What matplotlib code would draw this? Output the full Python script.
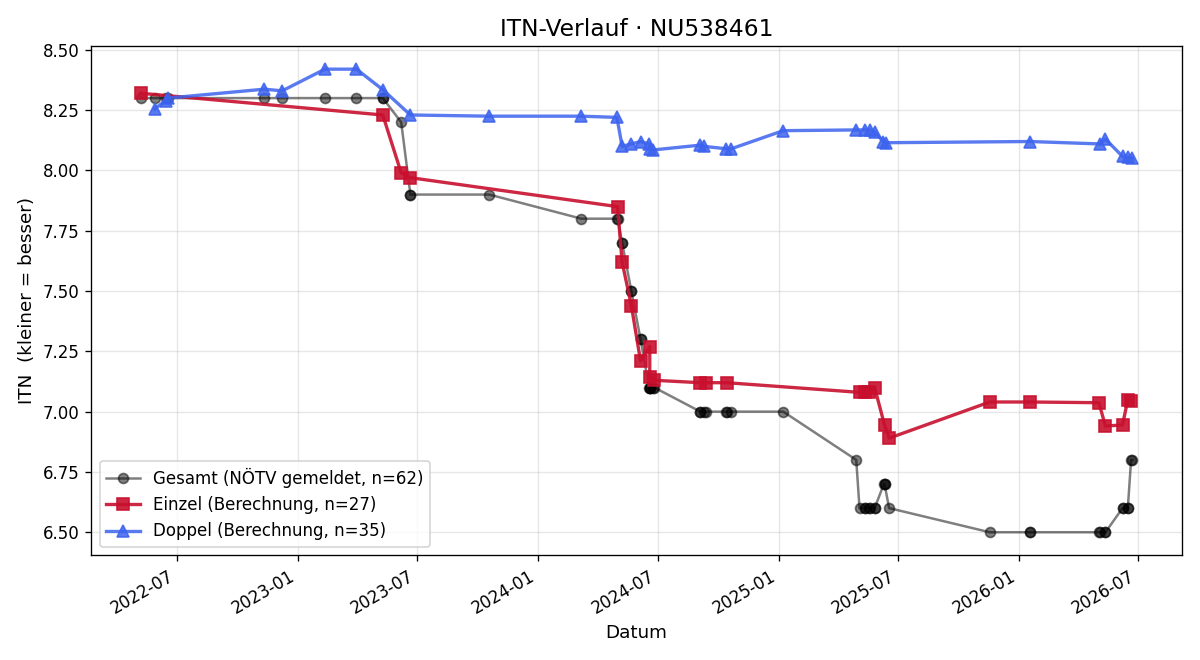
import numpy as np
import pandas as pd
import matplotlib
matplotlib.use("Agg")
import matplotlib.pyplot as plt
import matplotlib.dates as mdates

# Einzel (Berechnung)
einzel_dates = [
    "2022-05-07", "2023-05-10", "2023-06-07", "2023-06-21", "2024-05-01",
    "2024-05-08", "2024-05-22", "2024-06-05", "2024-06-19", "2024-06-19",
    "2024-06-26", "2024-09-04", "2024-09-12", "2024-10-14", "2025-05-04",
    "2025-05-13", "2025-05-19", "2025-05-27", "2025-06-11", "2025-06-18",
    "2025-11-18", "2026-01-19", "2026-05-03", "2026-05-13", "2026-06-08",
    "2026-06-16", "2026-06-21",
]
einzel_itn = [
    8.32, 8.23, 7.99, 7.97, 7.85,
    7.62, 7.44, 7.21, 7.27, 7.145,
    7.13, 7.12, 7.12, 7.12, 7.08,
    7.08, 7.08, 7.10, 6.945, 6.89,
    7.04, 7.04, 7.037, 6.94, 6.945,
    7.05, 7.045,
]

# Doppel (Berechnung)
doppel_dates = [
    "2022-05-28", "2022-06-14", "2022-06-17", "2022-11-11", "2022-12-08",
    "2023-02-11", "2023-03-31", "2023-05-10", "2023-06-21", "2023-10-19",
    "2024-03-07", "2024-04-30", "2024-05-08", "2024-05-22", "2024-06-05",
    "2024-06-18", "2024-06-20", "2024-06-24", "2024-09-04", "2024-09-09",
    "2024-10-13", "2024-10-21", "2025-01-08", "2025-04-29", "2025-05-12",
    "2025-05-20", "2025-05-27", "2025-06-09", "2025-06-14", "2026-01-18",
    "2026-05-04", "2026-05-13", "2026-06-08", "2026-06-16", "2026-06-23",
]
doppel_itn = [
    8.255, 8.29, 8.30, 8.337, 8.33,
    8.42, 8.42, 8.335, 8.23, 8.225,
    8.225, 8.22, 8.10, 8.11, 8.12,
    8.11, 8.09, 8.085, 8.105, 8.10,
    8.09, 8.09, 8.165, 8.168, 8.168,
    8.168, 8.16, 8.12, 8.115, 8.12,
    8.11, 8.13, 8.058, 8.055, 8.052,
]

# Gesamt (NÖTV gemeldet)
gesamt_dates = [
    "2022-05-07", "2022-05-28", "2022-06-14", "2022-06-17", "2022-11-11",
    "2022-12-08", "2023-02-11", "2023-03-31", "2023-05-10", "2023-05-10",
    "2023-06-07", "2023-06-21", "2023-06-21", "2023-10-19", "2024-03-07",
    "2024-04-30", "2024-05-01", "2024-05-08", "2024-05-08", "2024-05-22",
    "2024-05-22", "2024-06-05", "2024-06-05", "2024-06-18", "2024-06-19",
    "2024-06-19", "2024-06-20", "2024-06-24", "2024-06-26", "2024-09-04",
    "2024-09-04", "2024-09-09", "2024-09-12", "2024-10-13", "2024-10-14",
    "2024-10-21", "2025-01-08", "2025-04-29", "2025-05-04", "2025-05-12",
    "2025-05-13", "2025-05-19", "2025-05-20", "2025-05-27", "2025-05-27",
    "2025-06-10", "2025-06-11", "2025-06-11", "2025-06-18", "2025-11-18",
    "2026-01-18", "2026-01-19", "2026-05-03", "2026-05-04", "2026-05-13",
    "2026-05-13", "2026-06-08", "2026-06-08", "2026-06-16", "2026-06-16",
    "2026-06-21", "2026-06-23",
]
gesamt_itn = [
    8.30, 8.30, 8.30, 8.30, 8.30,
    8.30, 8.30, 8.30, 8.30, 8.30,
    8.20, 7.90, 7.90, 7.90, 7.80,
    7.80, 7.80, 7.70, 7.70, 7.50,
    7.50, 7.30, 7.30, 7.10, 7.10,
    7.10, 7.10, 7.10, 7.10, 7.00,
    7.00, 7.00, 7.00, 7.00, 7.00,
    7.00, 7.00, 6.80, 6.60, 6.60,
    6.60, 6.60, 6.60, 6.60, 6.60,
    6.70, 6.70, 6.70, 6.60, 6.50,
    6.50, 6.50, 6.50, 6.50, 6.50,
    6.50, 6.60, 6.60, 6.60, 6.60,
    6.80, 6.80,
]

fig, ax = plt.subplots(figsize=(10, 5.5), dpi=120)

ax.plot(pd.to_datetime(gesamt_dates), gesamt_itn, marker="o", color="black",
        alpha=0.5, linewidth=1.5, markersize=6,
        label=f"Gesamt (NÖTV gemeldet, n={len(gesamt_itn)})")
ax.plot(pd.to_datetime(einzel_dates), einzel_itn, marker="s", color="#c8102e",
        alpha=0.9, linewidth=2, markersize=7,
        label=f"Einzel (Berechnung, n={len(einzel_itn)})")
ax.plot(pd.to_datetime(doppel_dates), doppel_itn, marker="^", color="#3d63ee",
        alpha=0.85, linewidth=2, markersize=7,
        label=f"Doppel (Berechnung, n={len(doppel_itn)})")

ax.xaxis.set_major_locator(mdates.MonthLocator(bymonth=[1, 7]))
ax.xaxis.set_major_formatter(mdates.DateFormatter("%Y-%m"))
ax.yaxis.set_major_formatter(plt.FormatStrFormatter("%.2f"))

ax.set_title("ITN-Verlauf · NU538461", fontsize=14)
ax.set_xlabel("Datum", fontsize=11)
ax.set_ylabel("ITN  (kleiner = besser)", fontsize=11)
ax.grid(True, alpha=0.3)
ax.legend(loc="lower left")
fig.autofmt_xdate()
fig.tight_layout()
fig.savefig("out.png")
